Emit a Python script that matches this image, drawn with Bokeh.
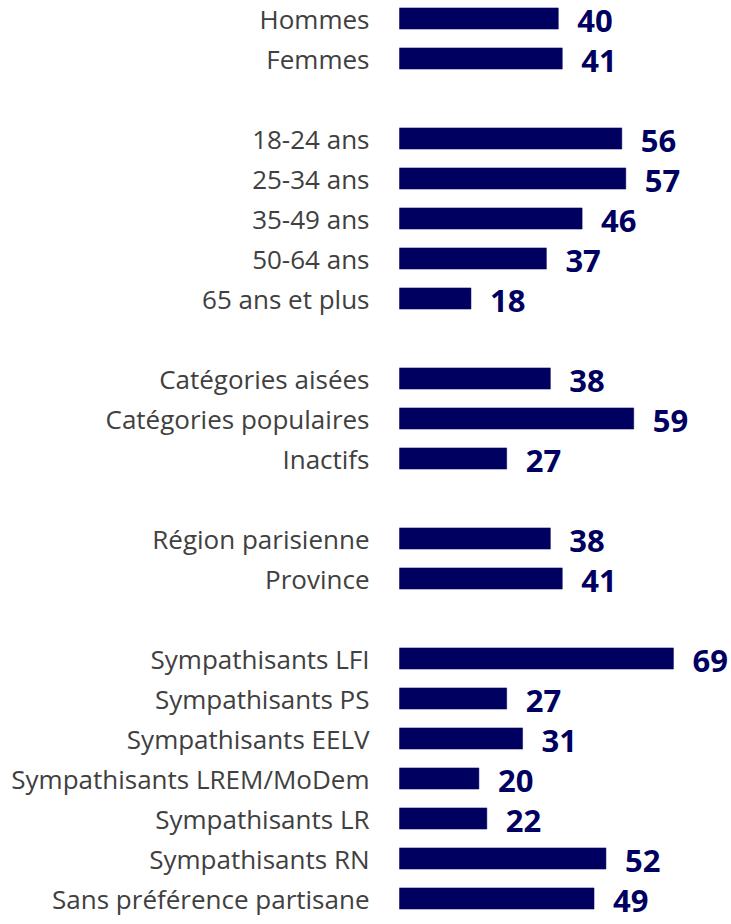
from bokeh.plotting import figure
from bokeh.models import ColumnDataSource, Range1d
from bokeh.core.properties import value
from bokeh.embed import file_html
from bokeh.resources import INLINE

# Data (groups separated by a blank row)
group_sexe = ["Hommes", "Femmes"]
values_sexe = [40, 41]
group_age = ["18-24 ans", "25-34 ans", "35-49 ans", "50-64 ans", "65 ans et plus"]
values_age = [56, 57, 46, 37, 18]
group_csp = ["Catégories aisées", "Catégories populaires", "Inactifs"]
values_csp = [38, 59, 27]
group_region = ["Région parisienne", "Province"]
values_region = [38, 41]
group_parti = ["Sympathisants LFI", "Sympathisants PS", "Sympathisants EELV",
               "Sympathisants LREM/MoDem", "Sympathisants LR", "Sympathisants RN",
               "Sans préférence partisane"]
values_parti = [69, 27, 31, 20, 22, 52, 49]

groups = [(group_sexe, values_sexe), (group_age, values_age), (group_csp, values_csp),
          (group_region, values_region), (group_parti, values_parti)]

labels, vals, rows = [], [], []
r = 0
for cats, vs in groups:
    for c, v in zip(cats, vs):
        labels.append(c)
        vals.append(v)
        rows.append(r)
        r += 1
    r += 1  # blank row between groups

src = ColumnDataSource(dict(label=labels, val=vals, row=rows, zero=[0] * len(vals),
                            txt=[str(v) for v in vals]))

W, H = 731, 924
scale = 3.97
x0 = 399
row_px = 40.0
top_px = 18
xr = Range1d(-x0 / scale, (W - x0) / scale)
y_top = -top_px / row_px
y_bot = y_top + H / row_px
yr = Range1d(y_bot, y_top)

p = figure(width=W, height=H, x_range=xr, y_range=yr, output_backend="svg",
           toolbar_location=None, min_border=0, outline_line_color=None)
p.axis.visible = False
p.grid.visible = False
p.background_fill_color = "white"
p.border_fill_color = "white"

navy = "#000060"
p.hbar(y="row", left="zero", right="val", height=0.53, source=src,
       fill_color=navy, line_color=navy, line_width=0.5)

p.text(x="zero", y="row", text="label", source=src, x_offset=-30,
       text_align="right", text_baseline="middle",
       text_font=value("Open Sans"), text_font_size="26px", text_color="#404040")

p.text(x="val", y="row", text="txt", source=src, x_offset=19, y_offset=2,
       text_align="left", text_baseline="middle",
       text_font=value("Open Sans"), text_font_style="bold",
       text_font_size="31px", text_color=navy)

open("out.html", "w").write(file_html(p, INLINE))
